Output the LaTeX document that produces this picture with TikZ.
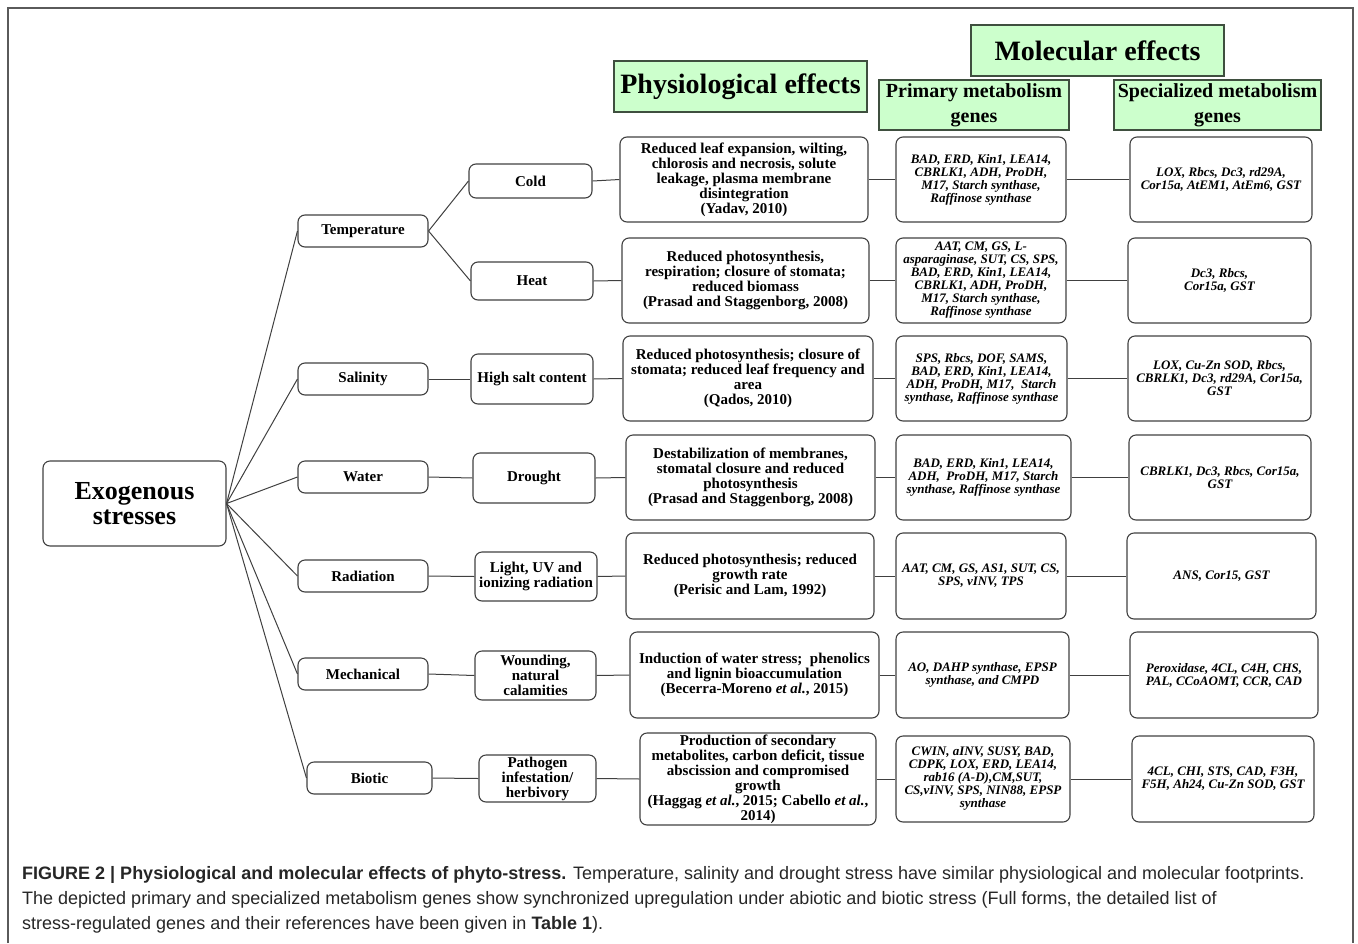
\documentclass[tikz,border=0pt]{standalone}
\usepackage{fontspec}
\setmainfont{Liberation Serif}
\newfontfamily\capfont{Liberation Sans}
\definecolor{hdrfill}{HTML}{CCFFCC}
\definecolor{hdrline}{HTML}{3F4F3F}
\definecolor{boxline}{HTML}{404040}
\definecolor{frameline}{HTML}{5A5A5A}
\definecolor{captext}{HTML}{262626}
\begin{document}
\begin{tikzpicture}[x=1pt,y=-1pt,
 box/.style={draw=boxline, line width=1.1pt, rounded corners=7pt, align=center, inner sep=1pt, font=\bfseries\fontsize{15}{15}\selectfont},
 gene/.style={box, font=\bfseries\itshape\fontsize{13}{13}\selectfont},
 hdr/.style={draw=hdrline, fill=hdrfill, line width=1.1pt, align=center, inner sep=1pt},
 conn/.style={draw=boxline, line width=1pt},
 sz/.style 2 args={minimum width=#1pt, minimum height=#2pt},
 captionline/.style={anchor=base west, inner sep=0pt, text=captext, font=\capfont\fontsize{18}{18}\selectfont}]
\useasboundingbox (0,0) rectangle (1358,943);
% frame
\draw[frameline, line width=2pt] (8,943) -- (8,8) -- (1353,8) -- (1353,943);

% headers
\node[hdr, sz={253}{51}, font=\bfseries\fontsize{28}{28}\selectfont] (hphys) at (740.5,86.5) {Physiological effects};
\node[hdr, sz={253}{51}, font=\bfseries\fontsize{28}{28}\selectfont] (hmol) at (1097.5,50.5) {Molecular effects};
\node[hdr, sz={190}{50}, font=\bfseries\fontsize{20}{25}\selectfont] (hprim) at (974,105) {Primary metabolism\\genes};
\node[hdr, sz={207}{50}, font=\bfseries\fontsize{20}{25}\selectfont] (hspec) at (1217.5,105) {Specialized metabolism\\genes};

% root
\node[box, sz={183}{85}, font=\bfseries\fontsize{26}{25}\selectfont] (exo) at (134.5,503.5) {Exogenous\\stresses};

% level 1
\node[box, sz={130}{32}] (temp) at (363,231) {Temperature};
\node[box, sz={130}{32}] (sal) at (363,379) {Salinity};
\node[box, sz={130}{32}] (wat) at (363,477) {Water};
\node[box, sz={130}{32}] (rad) at (363,576) {Radiation};
\node[box, sz={130}{32}] (mech) at (363,674) {Mechanical};
\node[box, sz={125}{32}] (bio) at (369.5,778) {Biotic};

% level 2
\node[box, sz={123}{34}] (cold) at (530.5,181) {Cold};
\node[box, sz={122}{38}] (heat) at (532,281) {Heat};
\node[box, sz={122}{50}] (salt) at (532,379) {High salt content};
\node[box, sz={122}{50}] (drought) at (534,478) {Drought};
\node[box, sz={122}{49}] (light) at (536,576.5) {Light, UV and\\ionizing radiation};
\node[box, sz={121}{49}] (wound) at (535.5,675.5) {Wounding,\\natural\\calamities};
\node[box, sz={117}{47}] (path) at (537.5,778.5) {Pathogen\\infestation/\\herbivory};

% physiological
\node[box, sz={248}{85}] (p1) at (744,179.5) {Reduced leaf expansion, wilting,\\chlorosis and necrosis, solute\\leakage, plasma membrane\\disintegration\\(Yadav, 2010)};
\node[box, sz={247}{85}] (p2) at (745.5,280.5) {Reduced photosynthesis,\\respiration; closure of stomata;\\reduced biomass\\(Prasad and Staggenborg, 2008)};
\node[box, sz={250}{85}] (p3) at (748,378.5) {Reduced photosynthesis; closure of\\stomata; reduced leaf frequency and\\area\\(Qados, 2010)};
\node[box, sz={249}{85}] (p4) at (750.5,477.5) {Destabilization of membranes,\\stomatal closure and reduced\\photosynthesis\\(Prasad and Staggenborg, 2008)};
\node[box, sz={248}{86}] (p5) at (750,576) {Reduced photosynthesis; reduced\\growth rate\\(Perisic and Lam, 1992)};
\node[box, sz={249}{86}] (p6) at (754.5,675) {Induction of water stress;~ phenolics\\and lignin bioaccumulation\\(Becerra-Moreno \textit{et al.}, 2015)};
\node[box, sz={236}{92}, inner sep=0pt] (p7) at (758,779) {Production of secondary\\metabolites, carbon deficit, tissue\\abscission and compromised\\growth\\(Haggag \textit{et al.}, 2015; Cabello \textit{et al.},\\2014)};

% primary metabolism genes
\node[gene, sz={170}{85}] (g1) at (981,179.5) {BAD, ERD, Kin1, LEA14,\\CBRLK1, ADH, ProDH,\\M17, Starch synthase,\\Raffinose synthase};
\node[gene, sz={170}{85}] (g2) at (981,280.5) {AAT, CM, GS, L-\\asparaginase, SUT, CS, SPS,\\BAD, ERD, Kin1, LEA14,\\CBRLK1, ADH, ProDH,\\M17, Starch synthase,\\Raffinose synthase};
\node[gene, sz={171}{85}] (g3) at (981.5,378.5) {SPS, Rbcs, DOF, SAMS,\\BAD, ERD, Kin1, LEA14,\\ADH, ProDH, M17,~ Starch\\synthase, Raffinose synthase};
\node[gene, sz={175}{85}] (g4) at (983.5,477.5) {BAD, ERD, Kin1, LEA14,\\ADH,~ ProDH, M17, Starch\\synthase, Raffinose synthase};
\node[gene, sz={170}{86}] (g5) at (981,576) {AAT, CM, GS, AS1, SUT, CS,\\SPS, vINV, TPS};
\node[gene, sz={173}{86}] (g6) at (982.5,675) {AO, DAHP synthase, EPSP\\synthase, and CMPD};
\node[gene, sz={174}{86}] (g7) at (983,779) {CWIN, aINV, SUSY, BAD,\\CDPK, LOX, ERD, LEA14,\\rab16 (A-D),CM,SUT,\\CS,vINV, SPS, NIN88, EPSP\\synthase};

% specialized metabolism genes
\node[gene, sz={182}{85}] (s1) at (1221,179.5) {LOX, Rbcs, Dc3, rd29A,\\Cor15a, AtEM1, AtEm6, GST};
\node[gene, sz={183}{85}] (s2) at (1219.5,280.5) {Dc3, Rbcs,\\Cor15a, GST};
\node[gene, sz={183}{85}] (s3) at (1219.5,378.5) {LOX, Cu-Zn SOD, Rbcs,\\CBRLK1, Dc3, rd29A, Cor15a,\\GST};
\node[gene, sz={182}{85}] (s4) at (1220,477.5) {CBRLK1, Dc3, Rbcs, Cor15a,\\GST};
\node[gene, sz={189}{86}] (s5) at (1221.5,576) {ANS, Cor15, GST};
\node[gene, sz={188}{86}] (s6) at (1224,675) {Peroxidase, 4CL, C4H, CHS,\\PAL, CCoAOMT, CCR, CAD};
\node[gene, sz={182}{86}] (s7) at (1223,779) {4CL, CHI, STS, CAD, F3H,\\F5H, Ah24, Cu-Zn SOD, GST};

% connectors
\foreach \n in {temp,sal,wat,rad,mech,bio} \draw[conn] (exo.east) -- (\n.west);
\draw[conn] (temp.east) -- (cold.west);
\draw[conn] (temp.east) -- (heat.west);
\draw[conn] (sal.east) -- (salt.west);
\draw[conn] (wat.east) -- (drought.west);
\draw[conn] (rad.east) -- (light.west);
\draw[conn] (mech.east) -- (wound.west);
\draw[conn] (bio.east) -- (path.west);
\draw[conn] (cold.east) -- (p1.west);
\draw[conn] (heat.east) -- (p2.west);
\draw[conn] (salt.east) -- (p3.west);
\draw[conn] (drought.east) -- (p4.west);
\draw[conn] (light.east) -- (p5.west);
\draw[conn] (wound.east) -- (p6.west);
\draw[conn] (path.east) -- (p7.west);
\foreach \i in {1,...,7} {
  \draw[conn] (p\i.east) -- (g\i.west);
  \draw[conn] (g\i.east) -- (s\i.west);
}

% caption
\node[captionline] (cap1) at (22,879) {\textbf{FIGURE 2 | Physiological and molecular effects of phyto-stress.} Temperature, salinity and drought stress have similar physiological and molecular footprints.};
\node[captionline] (cap2) at (22,904) {The depicted primary and specialized metabolism genes show synchronized upregulation under abiotic and biotic stress (Full forms, the detailed list of};
\node[captionline] (cap3) at (22,929) {stress-regulated genes and their references have been given in \textbf{Table 1}).};
\end{tikzpicture}
\end{document}
